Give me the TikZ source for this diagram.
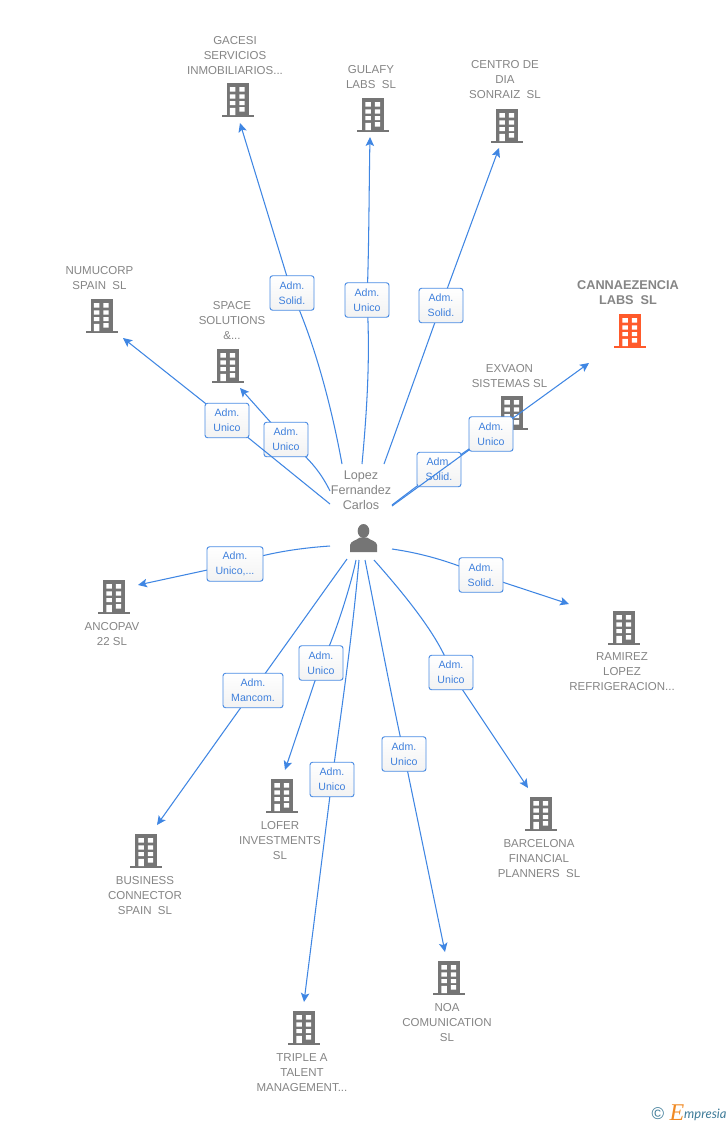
\documentclass[tikz,border=0pt]{standalone}
\usepackage{fontspec}
\setmainfont{Liberation Sans}
\newfontfamily\logofont{Lato}
\newfontfamily\logoserif{Liberation Serif}
\usetikzlibrary{arrows.meta}
\definecolor{linkblue}{HTML}{3F86E3}
\definecolor{labtext}{HTML}{3F80DC}
\definecolor{labedge}{HTML}{4A8CE4}
\definecolor{txtgray}{HTML}{858585}
\definecolor{bldgray}{HTML}{757575}
\definecolor{bldorange}{HTML}{FF5A2B}
\definecolor{logoblue}{HTML}{3F7C99}
\definecolor{logoorange}{HTML}{F08A24}
\tikzset{
 x=1pt,y=-1pt,
 conn/.style={draw=linkblue,line width=1.05pt,-{Stealth[length=9pt,width=8.5pt,inset=2pt]}},
 connplain/.style={draw=linkblue,line width=1.05pt},
 lab/.style={draw=labedge,line width=.95pt,rounded corners=2.6pt,top color=white,bottom color=white!95!black,
   text=labtext,minimum width=44pt,minimum height=34.5pt,inner sep=0pt,align=center,
   font=\fontsize{10.6}{15}\selectfont},
 name txt/.style={text=txtgray,align=center,inner sep=0pt,font=\fontsize{11.5}{15}\selectfont},
 hub txt/.style={text=txtgray,align=center,inner sep=0pt,font=\fontsize{12.6}{15}\selectfont},
 main txt/.style={text=txtgray,align=center,inner sep=0pt,font=\fontsize{12.7}{15}\selectfont\bfseries},
}
\newcommand{\bldg}[3]{%
 \begin{scope}[shift={(#1,#2)}]
  \fill[#3] (-11,0) rectangle (11,32);
  \fill[#3] (-16,32) rectangle (16,34.2);
  \fill[white] (-7.6,4.1) rectangle (-2.2,8.6) (1.8,4.1) rectangle (7.2,8.6)
   (-7.6,11.3) rectangle (-2.2,15.5) (1.8,11.3) rectangle (7.2,15.5)
   (-7.6,18.1) rectangle (-2.2,22.2) (1.8,18.1) rectangle (7.2,22.2)
   (-7.6,24.8) rectangle (-2.2,32) (1.8,24.1) rectangle (7.2,28.5);
 \end{scope}}
\begin{document}
\begin{tikzpicture}
\useasboundingbox (0,0) rectangle (728,1125);
\fill[white] (0,0) rectangle (728,1125);
% label anchor points
\coordinate (lg) at (292,293);
\coordinate (lu) at (367,300);
\coordinate (lc) at (441,305.5);
\coordinate (ln) at (227,420.5);
\coordinate (ls) at (286,439.5);
\coordinate (le) at (439,469.5);
\coordinate (lz) at (491,434);
\coordinate (la) at (235,564);
\coordinate (lr) at (481,575);
\coordinate (lb) at (253,690.5);
\coordinate (ll) at (321,663);
\coordinate (lt) at (332,779.5);
\coordinate (lo) at (404,754);
\coordinate (lf) at (451,672.5);
% free ends
\coordinate (sg) at (342,464); \coordinate (eg) at (240,123);
\coordinate (su) at (362,464); \coordinate (eu) at (370,137);
\coordinate (sc) at (384,464); \coordinate (ec) at (499,148);
\coordinate (sn) at (330,504); \coordinate (en) at (123,338);
\coordinate (ss) at (330,491); \coordinate (es) at (240,388);
\coordinate (se) at (392,505);
\coordinate (sz) at (392,506); \coordinate (ez) at (589,363);
\coordinate (sa) at (330,546); \coordinate (ea) at (138,585);
\coordinate (sr) at (392,549); \coordinate (er) at (569,604);
\coordinate (sb) at (347,559); \coordinate (eb) at (157,825);
\coordinate (sl) at (356,560); \coordinate (el) at (285,770);
\coordinate (st) at (359,560); \coordinate (et) at (304,1002);
\coordinate (so) at (365,560); \coordinate (eo) at (445,952);
\coordinate (sf) at (374,560); \coordinate (ef) at (528,788);
% buildings
\bldg{237.5}{83}{bldgray}
\bldg{373}{98}{bldgray}
\bldg{507}{109}{bldgray}
\bldg{101.5}{299}{bldgray}
\bldg{228}{349}{bldgray}
\bldg{630}{314}{bldorange}
\bldg{512}{396}{bldgray}
\bldg{114}{580}{bldgray}
\bldg{624}{611}{bldgray}
\bldg{146}{834}{bldgray}
\bldg{282}{779}{bldgray}
\bldg{541}{797}{bldgray}
\bldg{449}{961}{bldgray}
\bldg{304}{1011}{bldgray}
% person
\fill[bldgray] (363.5,531) ellipse (5.8 and 7);
\fill[bldgray] (350,552) -- (350,545) .. controls (350.5,541) and (356,540.5) .. (360,537.5) -- (367,537.5) .. controls (371,540.5) and (376.5,541) .. (377,545) -- (377,552) -- cycle;
% connectors and labels, in painting order
\draw[conn] (sg) .. controls (334,420) and (318,350) .. (lg) -- (eg);
\node[lab] (ng) at (lg) {Adm.\\Solid.};
\draw[conn] (su) .. controls (368,400) and (370,350) .. (lu) .. controls (369,250) and (369,190) .. (eu);
\node[lab] (nu) at (lu) {Adm.\\Unico};
\draw[conn] (sc) .. controls (400,420) and (425,350) .. (lc) -- (ec);
\node[lab] (nc) at (lc) {Adm.\\Solid.};
\draw[conn] (ss) .. controls (322,475) and (312,460) .. (ls) -- (es);
\node[lab] (ns) at (ls) {Adm.\\Unico};
\draw[conn] (sn) -- (ln) -- (en);
\node[lab] (nn) at (ln) {Adm.\\Unico};
\draw[connplain] (se) -- (le) -- (lz);
\node[lab] (ne) at (le) {Adm.\\Solid.};
\draw[conn] (sz) -- (lz) -- (ez);
\node[lab] (nz) at (lz) {Adm.\\Unico};
\draw[conn] (sa) .. controls (300,548) and (265,553) .. (la) -- (ea);
\node[lab,minimum width=56pt] (na) at (la) {Adm.\\Unico,...};
\draw[conn] (sr) .. controls (420,553) and (450,561) .. (lr) -- (er);
\node[lab] (nr) at (lr) {Adm.\\Solid.};
\draw[conn] (sb) -- (lb) -- (eb);
\node[lab,minimum width=60pt] (nb) at (lb) {Adm.\\Mancom.};
\draw[conn] (sl) .. controls (350,590) and (330,650) .. (ll) -- (el);
\node[lab] (nl) at (ll) {Adm.\\Unico};
\draw[conn] (st) .. controls (352,640) and (340,720) .. (lt) -- (et);
\node[lab] (nt) at (lt) {Adm.\\Unico};
\draw[conn] (so) .. controls (375,610) and (390,690) .. (lo) -- (eo);
\node[lab] (no) at (lo) {Adm.\\Unico};
\draw[conn] (sf) .. controls (405,595) and (442,640) .. (lf) -- (ef);
\node[lab] (nf) at (lf) {Adm.\\Unico};
% texts
\node[name txt] (t1) at (235,56) {GACESI\\SERVICIOS\\INMOBILIARIOS...};
\node[name txt] (t2) at (371,77.5) {GULAFY\\LABS\ \ SL};
\node[name txt] (t3) at (505,79.5) {CENTRO DE\\DIA\\SONRAIZ\ \ SL};
\node[name txt] (t4) at (99.5,278.5) {NUMUCORP\\SPAIN\ \ SL};
\node[name txt] (t5) at (232,321) {SPACE\\SOLUTIONS\\\&...};
\node[main txt] (t6) at (628,292.5) {CANNAEZENCIA\\LABS\ \ SL};
\node[name txt] (t7) at (509.5,376.5) {EXVAON\\SISTEMAS SL};
\node[name txt] (t8) at (112,634) {ANCOPAV\\22 SL};
\node[name txt] (t9) at (622,672) {RAMIREZ\\LOPEZ\\REFRIGERACION...};
\node[name txt] (t10) at (145,895.5) {BUSINESS\\CONNECTOR\\SPAIN\ \ SL};
\node[name txt] (t11) at (280,840.5) {LOFER\\INVESTMENTS\\SL};
\node[name txt] (t12) at (539,858.5) {BARCELONA\\FINANCIAL\\PLANNERS\ \ SL};
\node[name txt] (t13) at (447,1022.5) {NOA\\COMUNICATION\\SL};
\node[name txt] (t14) at (302,1072.5) {TRIPLE A\\TALENT\\MANAGEMENT...};
\node[hub txt] (hub) at (361,490) {Lopez\\Fernandez\\Carlos};
% logo
\node[inner sep=0pt,text=logoblue,font=\fontsize{17}{17}\selectfont] (lc1) at (658,1114) {©};
\node[inner sep=0pt,text=logoorange,font=\logoserif\fontsize{24}{24}\selectfont] (lc2) at (677,1113) {\itshape E};
\node[inner sep=0pt,anchor=west,text=logoblue,font=\logofont\fontsize{13}{15}\selectfont] (lc3) at (684,1115) {\itshape mpresia};
\end{tikzpicture}
\end{document}
